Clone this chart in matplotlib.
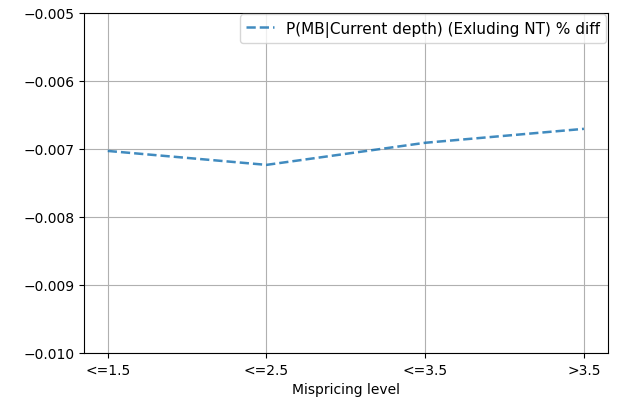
import matplotlib
matplotlib.use("Agg")
import matplotlib.pyplot as plt

# Data
levels = ['<=1.5', '<=2.5', '<=3.5', '>3.5']
pct_diff = [-0.00703, -0.007235, -0.00691, -0.006705]

fig = plt.figure(figsize=(6.17, 4.10), dpi=100)
ax = fig.add_axes([0.136, 0.137, 0.849, 0.829])

ax.plot(levels, pct_diff, linestyle='--', color='#1f77b4', alpha=0.85, lw=1.8,
        label='P(MB|Current depth) (Exluding NT) % diff')

ax.set_ylim(-0.010, -0.005)
ax.set_xlabel('Mispricing level')
ax.grid(True)
ax.legend(loc='upper right', fontsize=11, borderaxespad=0.1, handlelength=1.8)

fig.savefig('out.png', dpi=100)
